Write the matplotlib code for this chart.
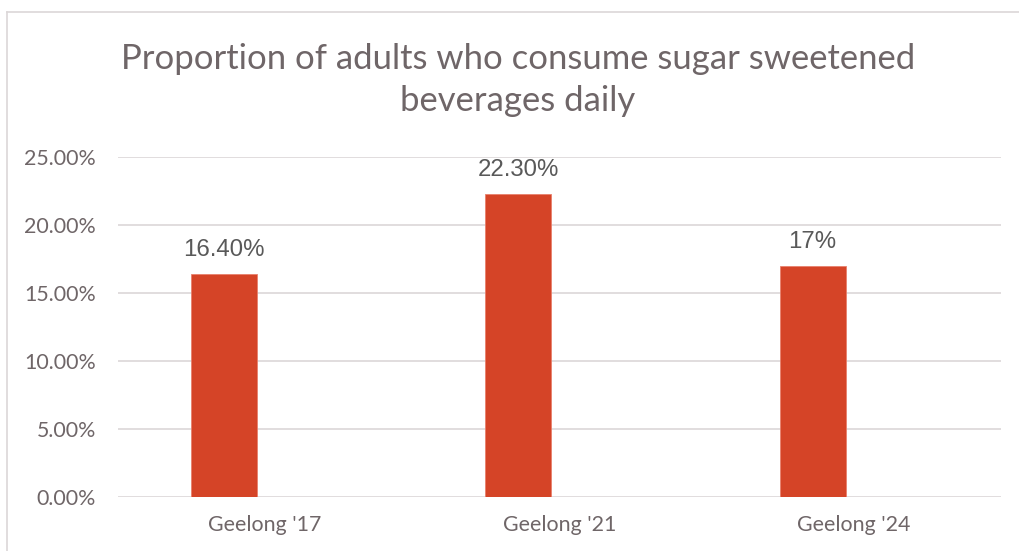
import matplotlib
matplotlib.use("Agg")
import matplotlib.pyplot as plt
from matplotlib.lines import Line2D
from matplotlib.ticker import FuncFormatter, MultipleLocator

categories = ["Geelong '17", "Geelong '21", "Geelong '24"]
values = [16.40, 22.30, 17.0]
value_labels = ["16.40%", "22.30%", "17%"]

TEXT = "#6f6668"
BAR = "#d54427"
GRID = "#dcd7d8"

fig = plt.figure(figsize=(10.19, 5.51), dpi=100)
ax = fig.add_axes([118 / 1019, 54 / 551, 883 / 1019, 340 / 551])

x = list(range(len(categories)))
bars = ax.bar([i - 0.252 for i in x], values, width=0.224, align="edge",
              color=BAR, edgecolor="#e8806c", linewidth=0.6, zorder=3)

for b, lab in zip(bars, value_labels):
    ax.annotate(lab, (b.get_x() + b.get_width() / 2, b.get_height()),
                xytext=(0, 9.5), textcoords="offset points", ha="center", va="bottom",
                fontsize=17.3, color="#595959", family="Liberation Sans")

ax.set_xlim(-0.5, 2.5)
ax.set_ylim(0, 25)
ax.yaxis.set_major_locator(MultipleLocator(5))
ax.yaxis.set_major_formatter(FuncFormatter(lambda v, p: f"{v:.2f}%"))
ax.set_xticks(x)
ax.set_xticklabels(categories)
ax.grid(axis="y", color=GRID, linewidth=1.2, zorder=0)
for s in ax.spines.values():
    s.set_visible(False)
ax.tick_params(axis="both", length=0, labelsize=15.4, labelcolor=TEXT)
ax.tick_params(axis="y", pad=16)
ax.tick_params(axis="x", pad=13)
for t in ax.get_xticklabels() + ax.get_yticklabels():
    t.set_family("Lato")

fig.text(518 / 1019, 1 - 80 / 551, "Proportion of adults who consume sugar sweetened\nbeverages daily",
         ha="center", va="center", fontsize=24.9, color=TEXT, family="Lato", linespacing=1.42)

# outer chart frame
fig.add_artist(Line2D([7 / 1019, 7 / 1019], [0, 1 - 12 / 551], transform=fig.transFigure,
                      color=GRID, linewidth=1.2))
fig.add_artist(Line2D([7 / 1019, 1], [1 - 12 / 551, 1 - 12 / 551], transform=fig.transFigure,
                      color=GRID, linewidth=1.2))

fig.savefig("out.png", dpi=100, facecolor="white")
